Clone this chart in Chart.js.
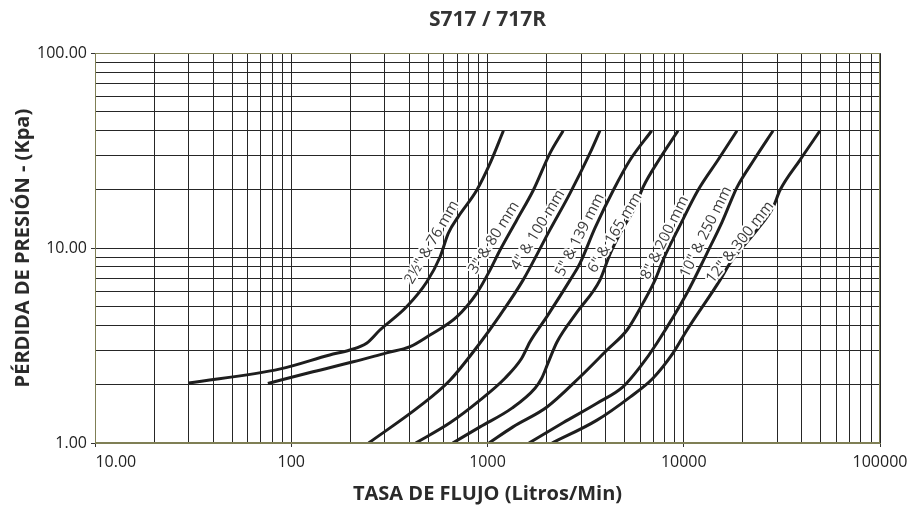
<!DOCTYPE html>
<html lang="es">
<head>
  <meta charset="UTF-8">
  <title>S717 / 717R</title>
  <script src="https://cdn.jsdelivr.net/npm/chart.js"></script>
  <style>
    html, body { margin: 0; padding: 0; background: #fff; }
    #wrap { width: 919px; height: 506px; }
  </style>
</head>
<body>
  <div id="wrap"><canvas id="chart" width="919" height="506"></canvas></div>

  <script>
    // curve names
    const sizes = ['2½" & 76 mm', '3" & 80 mm', '4" & 100 mm', '5" & 139 mm',
                   '6" & 165 mm', '8" & 200 mm', '10" & 250 mm', '12" & 300 mm'];

    // flow (Litros/Min) and pressure loss (Kpa)
    const flow76  = [30, 88, 157, 199, 242, 283, 387, 490, 573, 631, 710, 881, 1030, 1205];
    const loss76  = [2.03, 2.40, 2.83, 3.0, 3.25, 3.8, 5.0, 6.7, 9.0, 11.9, 14.5, 19.8, 27.2, 40];
    const flow80  = [76, 129, 207, 306, 403, 509, 697, 881, 1030, 1159, 1408, 1711, 2080, 2430];
    const loss80  = [2.02, 2.32, 2.61, 2.90, 3.12, 3.58, 4.44, 5.86, 7.71, 9.77, 13.9, 19.8, 30.6, 40];
    const flow100 = [248, 453, 644, 916, 1159, 1517, 2080, 2632, 3327, 3740];
    const loss100 = [1, 1.55, 2.10, 3.26, 4.53, 6.85, 12.4, 19.1, 30.7, 40];
    const flow139 = [431, 644, 916, 1228, 1494, 1647, 2003, 2633, 2958, 3531, 4375, 5324, 6866];
    const loss139 = [1, 1.27, 1.66, 2.15, 2.72, 3.31, 4.44, 6.85, 8.35, 12.7, 19.8, 28.3, 40];
    const flow165 = [665, 916, 1333, 1746, 1889, 2033, 2260, 2858, 3740, 4209, 4844, 5645, 6198, 7568, 9348];
    const loss165 = [1, 1.21, 1.51, 1.91, 2.15, 2.57, 3.30, 4.69, 6.85, 9.31, 12.4, 16.2, 20.5, 28.9, 40];
    const flow200 = [1018, 1349, 2010, 2958, 4064, 5140, 6198, 7137, 7839, 9573, 11820, 14940, 18670];
    const loss200 = [1, 1.21, 1.53, 2.18, 3.0, 3.80, 5.22, 6.85, 8.68, 13.1, 19.8, 28.3, 40];
    const flow250 = [1627, 2426, 3614, 4900, 5984, 7307, 10390, 13140, 15670, 17210, 18670, 23070, 28510];
    const loss250 = [1, 1.27, 1.60, 1.94, 2.45, 3.26, 5.88, 9.43, 13.6, 17.0, 20.5, 28.9, 40];
    const flow300 = [2132, 3614, 5324, 6970, 8813, 10390, 15300, 17210, 23620, 28510, 30920, 39090, 49450];
    const loss300 = [1, 1.31, 1.72, 2.15, 2.89, 3.80, 6.85, 8.38, 12.4, 16.2, 19.8, 28.3, 40];

    const flows  = [flow76, flow80, flow100, flow139, flow165, flow200, flow250, flow300];
    const losses = [loss76, loss80, loss100, loss139, loss165, loss200, loss250, loss300];

    // where each curve name sits (data units) and its slant
    const labelFlow  = [521, 1079, 1807, 2958, 4467, 8017, 12970, 19360];
    const labelLoss  = [10.7, 11.3, 12.4, 11.7, 12.0, 11.3, 12.1, 10.7];
    const labelAngle = [-60, -58, -59, -63, -59, -64, -64, -52];

    // axis ticks
    const xDecades = [10, 100, 1000, 10000, 100000];
    const xTickLabels = ['          10.00', '100', '1000', '10000', '100000'];
    const yDecades = [1, 10, 100];
    const yTickLabels = ['1.00', '10.00', '100.00'];

    function logTicks(decades) {
      const t = [];
      for (let i = 0; i < decades.length - 1; i++) {
        for (let m = 1; m < 10; m++) t.push({ value: decades[i] * m });
      }
      t.push({ value: decades[decades.length - 1] });
      return t;
    }

    const gridColor = '#262626';
    const frameColor = '#7f7f55';

    const curveLabels = {
      id: 'curveLabels',
      afterDatasetsDraw(chart) {
        const { ctx, scales: { x, y } } = chart;
        ctx.save();
        ctx.font = '15px "Open Sans"';
        ctx.textAlign = 'center';
        ctx.textBaseline = 'middle';
        sizes.forEach((name, i) => {
          ctx.save();
          ctx.translate(x.getPixelForValue(labelFlow[i]), y.getPixelForValue(labelLoss[i]));
          ctx.rotate(labelAngle[i] * Math.PI / 180);
          ctx.lineWidth = 4;
          ctx.strokeStyle = '#fff';
          ctx.lineJoin = 'round';
          ctx.strokeText(name, 0, 0);
          ctx.fillStyle = '#3c3c3c';
          ctx.fillText(name, 0, 0);
          ctx.restore();
        });
        ctx.restore();
      },
      afterDraw(chart) {
        const { ctx, chartArea: a } = chart;
        ctx.save();
        ctx.strokeStyle = frameColor;
        ctx.lineWidth = 1;
        ctx.strokeRect(Math.round(a.left) + 0.5, Math.round(a.top) + 0.5,
                       Math.round(a.right - a.left) - 1, Math.round(a.bottom - a.top) - 1);
        ctx.restore();
      }
    };

    new Chart(document.getElementById('chart').getContext('2d'), {
      type: 'line',
      data: {
        datasets: sizes.map((name, i) => ({
          label: name,
          data: flows[i].map((q, k) => ({ x: q, y: losses[i][k] })),
          borderColor: '#1e1e1e',
          borderWidth: 3,
          pointRadius: 0,
          fill: false,
          cubicInterpolationMode: 'monotone'
        }))
      },
      options: {
        responsive: false,
        animation: false,
        layout: { padding: { left: 0, right: 39, top: 0, bottom: 0 } },
        plugins: {
          legend: { display: false },
          tooltip: { enabled: false },
          title: {
            display: true,
            fullSize: false,
            text: 'S717 / 717R',
            color: '#333',
            font: { family: 'Open Sans', size: 21, weight: 'bold' },
            padding: { top: 7, bottom: 21 }
          }
        },
        scales: {
          x: {
            type: 'logarithmic',
            min: 10,
            max: 100000,
            afterBuildTicks: s => { s.ticks = logTicks(xDecades); },
            afterFit: s => { s.height = 63; },
            ticks: {
              autoSkip: false,
              maxRotation: 0,
              padding: 6,
              color: '#222',
              font: { family: 'Open Sans', size: 16 },
              callback: v => {
                const k = xDecades.indexOf(v);
                return k < 0 ? '' : xTickLabels[k];
              }
            },
            grid: {
              color: gridColor,
              lineWidth: 1,
              tickLength: 4,
              tickColor: c => xDecades.includes(c.tick && c.tick.value) ? '#333' : 'rgba(0,0,0,0)'
            },
            border: { color: frameColor },
            title: {
              display: true,
              text: 'TASA DE FLUJO (Litros/Min)',
              color: '#2a2a2a',
              font: { family: 'Open Sans', size: 20, weight: 'bold' },
              padding: { top: 2, bottom: 0 }
            }
          },
          y: {
            type: 'logarithmic',
            min: 1,
            max: 100,
            afterBuildTicks: s => { s.ticks = logTicks(yDecades); },
            afterFit: s => { s.width = 95; },
            ticks: {
              autoSkip: false,
              padding: 4,
              color: '#222',
              font: { family: 'Open Sans', size: 16 },
              callback: v => {
                const k = yDecades.indexOf(v);
                return k < 0 ? '' : yTickLabels[k];
              }
            },
            grid: {
              color: gridColor,
              lineWidth: 1,
              tickLength: 4,
              tickColor: c => yDecades.includes(c.tick && c.tick.value) ? '#333' : 'rgba(0,0,0,0)'
            },
            border: { color: frameColor },
            title: {
              display: true,
              text: 'PÉRDIDA DE PRESIÓN - (Kpa)',
              color: '#2a2a2a',
              font: { family: 'Open Sans', size: 20, weight: 'bold' },
              padding: { top: 11, bottom: 2 }
            }
          }
        }
      },
      plugins: [curveLabels]
    });
  </script>
</body>
</html>
